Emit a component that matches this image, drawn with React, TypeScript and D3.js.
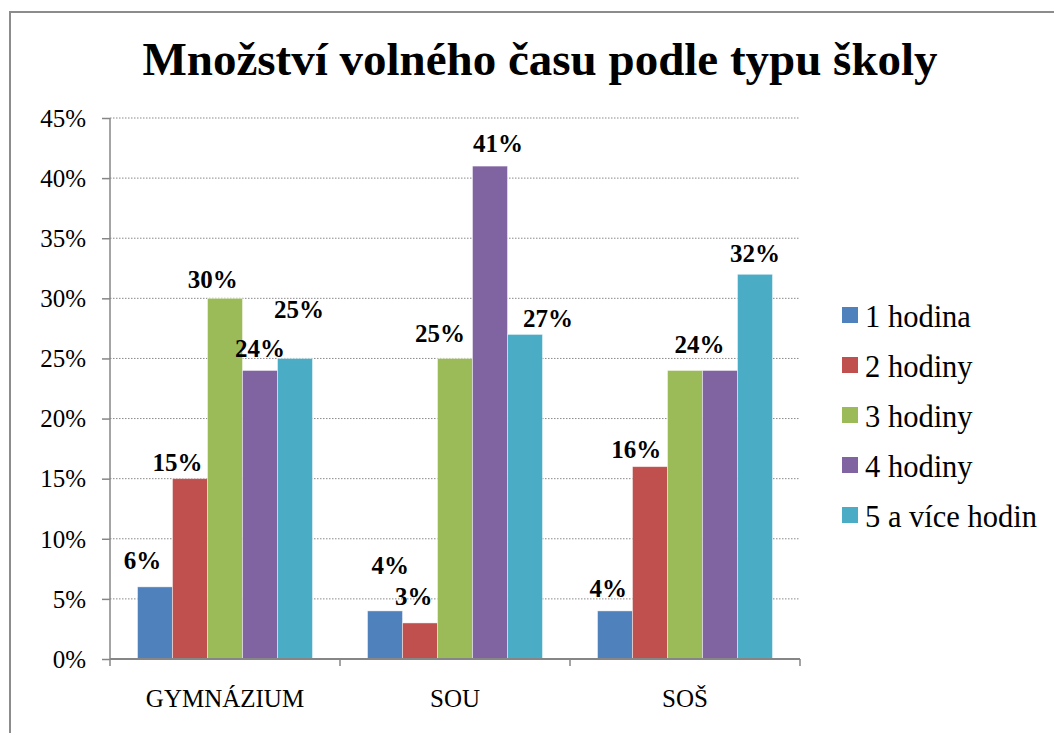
import { useEffect, useRef } from "react";
import * as d3 from "d3";

const categories = ["GYMNÁZIUM", "SOU", "SOŠ"];
const seriesNames = ["1 hodina", "2 hodiny", "3 hodiny", "4 hodiny", "5 a více hodin"];
const seriesColors = ["#4F81BD", "#C0504D", "#9BBB59", "#8064A2", "#4BACC6"];

// values per series, in category order
const hod1 = [0.06, 0.04, 0.04];
const hod2 = [0.15, 0.03, 0.16];
const hod3 = [0.3, 0.25, 0.24];
const hod4 = [0.24, 0.41, 0.24];
const hod5 = [0.25, 0.27, 0.32];
const seriesValues = [hod1, hod2, hod3, hod4, hod5];

const yTicks = [0, 0.05, 0.1, 0.15, 0.2, 0.25, 0.3, 0.35, 0.4, 0.45];

// hand-placed data labels in the original: [dx from bar centre, baseline offset from bar top]
const labelNudge: ([number, number] | null)[][] = [
  [[-12.5, -17.7], [5.3, -37.4], [-6.7, -14]],
  [[-12.5, -7.6], [-6.2, -17.7], [-13.7, -8.4]],
  [[-12.2, -10.3], [-15, -16], [14.5, -17.3]],
  [[0, -13.5], [8, -14], null],
  [[4, -40], [23, -7.3], [0, -12.3]],
];

const FONT = "'Liberation Serif', 'Times New Roman', serif";

export default function App() {
  const svgRef = useRef<SVGSVGElement>(null);
  const width = 1054;
  const height = 733;

  useEffect(() => {
    if (!svgRef.current) return;
    const svg = d3.select(svgRef.current);
    svg.selectAll("*").remove();

    const left = 110;
    const right = 800;
    const top = 118;
    const bottom = 659;

    // outer frame (runs off the right and bottom edge like the source)
    svg
      .append("rect")
      .attr("x", 10)
      .attr("y", 12)
      .attr("width", 1080)
      .attr("height", 760)
      .attr("fill", "#fff")
      .attr("stroke", "#8c8c8c")
      .attr("stroke-width", 2);

    svg
      .append("text")
      .attr("x", 540)
      .attr("y", 75)
      .attr("text-anchor", "middle")
      .attr("font-family", FONT)
      .attr("font-weight", "bold")
      .attr("font-size", 47)
      .text("Množství volného času podle typu školy");

    const x = d3.scaleBand().domain(categories).range([left, right]).padding(0);
    const xSub = d3
      .scaleBand()
      .domain(seriesNames)
      .range([0, x.bandwidth()])
      .paddingInner(0)
      .paddingOuter(0.786);
    const y = d3.scaleLinear().domain([0, 0.45]).range([bottom, top]);

    // y axis ticks + labels
    const yAxis = svg
      .append("g")
      .attr("transform", `translate(${left},0)`)
      .call(
        d3
          .axisLeft(y)
          .tickValues(yTicks)
          .tickSize(8)
          .tickPadding(16)
          .tickFormat((d) => `${Math.round(Number(d) * 100)}%`)
      );
    yAxis.attr("font-family", null).attr("font-size", null);
    yAxis.select(".domain").remove();
    yAxis.selectAll(".tick line").attr("stroke", "#868686").attr("stroke-width", 1.5);
    yAxis
      .selectAll("text")
      .attr("fill", "#000")
      .attr("dy", "0.33em")
      .attr("font-family", FONT)
      .attr("font-size", 25);

    // dotted gridlines
    svg
      .append("g")
      .selectAll("line")
      .data(yTicks.filter((t) => t > 0))
      .enter()
      .append("line")
      .attr("x1", left)
      .attr("x2", right)
      .attr("y1", (d) => y(d))
      .attr("y2", (d) => y(d))
      .attr("stroke", "#8a8a8a")
      .attr("stroke-width", 1)
      .attr("stroke-dasharray", "1.5,1.5");

    // bars
    const groups = svg
      .append("g")
      .selectAll("g")
      .data(seriesNames)
      .enter()
      .append("g")
      .attr("fill", (_, i) => seriesColors[i]);

    groups
      .selectAll("rect")
      .data((_, si) => seriesValues[si].map((v, ci) => ({ v, ci, si })))
      .enter()
      .append("rect")
      .attr("x", (d) => (x(categories[d.ci]) ?? 0) + (xSub(seriesNames[d.si]) ?? 0))
      .attr("y", (d) => y(d.v))
      .attr("width", xSub.bandwidth())
      .attr("height", (d) => bottom - y(d.v))
      .attr("stroke", "rgba(255,255,255,0.55)")
      .attr("stroke-width", 0.8);

    // axis lines and x ticks
    svg
      .append("line")
      .attr("x1", left)
      .attr("x2", right)
      .attr("y1", bottom)
      .attr("y2", bottom)
      .attr("stroke", "#868686")
      .attr("stroke-width", 2);
    svg
      .append("line")
      .attr("x1", left)
      .attr("x2", left)
      .attr("y1", top)
      .attr("y2", bottom)
      .attr("stroke", "#868686")
      .attr("stroke-width", 1.5);

    const xTickPos = categories.map((c) => x(c) ?? 0).concat([right]);
    svg
      .append("g")
      .selectAll("line")
      .data(xTickPos)
      .enter()
      .append("line")
      .attr("x1", (d) => d)
      .attr("x2", (d) => d)
      .attr("y1", bottom)
      .attr("y2", bottom + 7)
      .attr("stroke", "#868686")
      .attr("stroke-width", 1.5);

    svg
      .append("g")
      .selectAll("text")
      .data(categories)
      .enter()
      .append("text")
      .attr("x", (d) => (x(d) ?? 0) + x.bandwidth() / 2)
      .attr("y", 707)
      .attr("text-anchor", "middle")
      .attr("font-family", FONT)
      .attr("font-size", 25)
      .text((d) => d);

    // data labels
    const labels: { x: number; y: number; t: string }[] = [];
    seriesValues.forEach((vals, si) =>
      vals.forEach((v, ci) => {
        const n = labelNudge[si][ci];
        if (!n) return;
        const cx =
          (x(categories[ci]) ?? 0) + (xSub(seriesNames[si]) ?? 0) + xSub.bandwidth() / 2;
        labels.push({ x: cx + n[0], y: y(v) + n[1], t: `${Math.round(v * 100)}%` });
      })
    );
    svg
      .append("g")
      .selectAll("text")
      .data(labels)
      .enter()
      .append("text")
      .attr("x", (d) => d.x)
      .attr("y", (d) => d.y)
      .attr("text-anchor", "middle")
      .attr("font-family", FONT)
      .attr("font-weight", "bold")
      .attr("font-size", 25)
      .text((d) => d.t);

    // legend
    const legend = svg
      .append("g")
      .selectAll("g")
      .data(seriesNames)
      .enter()
      .append("g")
      .attr("transform", (_, i) => `translate(842,${307 + i * 50})`);
    legend
      .append("rect")
      .attr("width", 16)
      .attr("height", 16)
      .attr("fill", (_, i) => seriesColors[i]);
    legend
      .append("text")
      .attr("x", 23)
      .attr("y", 19.5)
      .attr("font-family", FONT)
      .attr("font-size", 30.5)
      .text((d) => d);
  }, []);

  return (
    <svg
      ref={svgRef}
      width={width}
      height={height}
      style={{ position: "absolute", left: 0, top: 0, display: "block", background: "#fff" }}
    />
  );
}
